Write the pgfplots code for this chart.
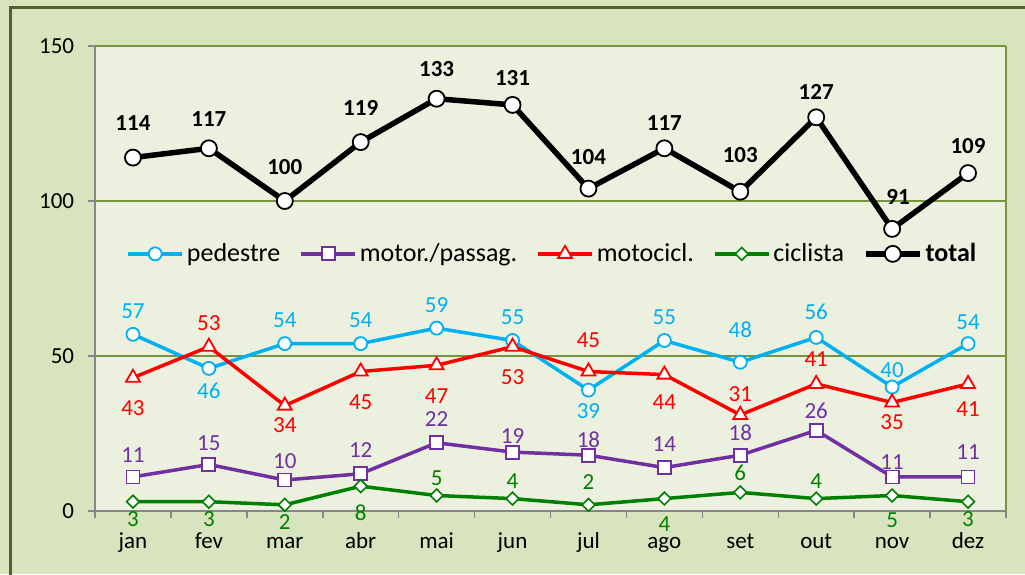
\documentclass[border=0pt]{standalone}
\usepackage{fontspec}
\setmainfont{Carlito}
\usepackage{pgfplots}
\usepackage{pgfplotstable}
\pgfplotsset{compat=1.18}

\definecolor{outerbg}{HTML}{D7E4BD}
\definecolor{plotbg}{HTML}{EBF1DE}
\definecolor{gridc}{HTML}{77933C}
\definecolor{framec}{HTML}{4F6228}
\definecolor{axisc}{HTML}{868686}
\definecolor{ped}{HTML}{00B0F0}
\definecolor{mot}{HTML}{7030A0}
\definecolor{moto}{HTML}{FF0000}
\definecolor{cic}{HTML}{008000}

% values and label offsets (baseline shift in pt, + above, - below)
\pgfplotstableread{
x ped pedo mp mpo mc mco ci cio tot toto totx
0  57  16 11 14 43 -38 3 -25 114 27 0
1  46 -30 15 14 53  16 3 -25 117 22 0
2  54  16 10 12 34 -27 2 -25 100 26 0
3  54  16 12 16 45 -38 8 -34 119 27 0
4  59  16 22 16 47 -38 5  10 133 22 0
5  55  16 19  9 53 -38 4  10 131 19 0
6  39 -28 18  8 45  24 2  15 104 24 0
7  55  16 14 16 44 -35 4 -33 117 18 0
8  48  25 18 15 31  13 6  12 103 29 0
9  56  18 26 12 41  17 4  10 127 18 0
10 40  10 11  7 35 -27 5 -32 91  24 6
11 54  14 11 17 41 -33 3 -25 109 20 0
}\data

\begin{document}
\fontsize{23}{28}\selectfont
\begin{tikzpicture}
\useasboundingbox (0,0) rectangle (1025pt,574pt);
\clip (0,0) rectangle (1025pt,574pt);
\fill[outerbg] (0,0) rectangle (1025pt,574pt);
\draw[framec, line width=3pt] (10pt,-20pt) rectangle (1045pt,566pt);
\begin{axis}[
  at={(95pt,63pt)}, anchor=south west,
  scale only axis, width=911pt, height=465pt,
  xmin=-0.5, xmax=11.5, ymin=0, ymax=150,
  clip=false,
  axis background/.style={fill=plotbg},
  axis lines=left,
  axis line style={-, axisc, line width=1.5pt},
  xtick={0,...,11},
  xticklabels={jan,fev,mar,abr,mai,jun,jul,ago,set,out,nov,dez},
  minor xtick={-0.5,0.5,...,11.5},
  major x tick style={draw=none},
  ytick={0,50,100,150},
  tick align=outside,
  major tick length=7pt, minor tick length=7pt,
  tick style={axisc, line width=1.5pt},
  ymajorgrids,
  grid style={gridc, line width=1.2pt},
  /pgf/number format/assume math mode=true,
  xticklabel style={anchor=base, yshift=-30pt, inner sep=1pt},
  yticklabel style={xshift=-6pt},
  legend style={draw=none, fill=none, at={(0.031,0.553)}, anchor=west,
    legend columns=-1, nodes={inner sep=3pt},
    font=\fontsize{26}{31}\selectfont,
    /tikz/every even column/.append style={column sep=16pt}},
  legend image code/.code={\draw[mark repeat=2,mark phase=2]
    plot coordinates {(0pt,0pt) (27pt,0pt) (54pt,0pt)};},
  nodes near coords={\pgfmathprintnumber[assume math mode=true]{\pgfplotspointmeta}},
  every node near coord/.append style={inner sep=1pt},
]
\draw[gridc, line width=1.2pt] (rel axis cs:1,0) -- (rel axis cs:1,1);

\addplot[ped, line width=3.5pt, mark=*, mark size=6.5pt,
  mark options={fill=white, line width=1.8pt},
  visualization depends on={\thisrow{pedo} \as \loff},
  every node near coord/.append style={anchor=base, yshift=\loff pt, text=ped}]
  table[x=x, y=ped] {\data};
\addlegendentry{pedestre}

\addplot[mot, line width=3.5pt, mark=square*, mark size=6.5pt,
  mark options={fill=white, line width=1.8pt},
  visualization depends on={\thisrow{mpo} \as \loff},
  every node near coord/.append style={anchor=base, yshift=\loff pt, text=mot}]
  table[x=x, y=mp] {\data};
\addlegendentry{motor./passag.}

\addplot[moto, line width=3.5pt, mark=triangle*, mark size=8pt,
  mark options={fill=white, line width=1.8pt},
  visualization depends on={\thisrow{mco} \as \loff},
  every node near coord/.append style={anchor=base, yshift=\loff pt, text=moto}]
  table[x=x, y=mc] {\data};
\addlegendentry{motocicl.}

\addplot[cic, line width=3.5pt, mark=square*, mark size=4.5pt,
  mark options={fill=white, line width=1.6pt, rotate=45},
  visualization depends on={\thisrow{cio} \as \loff},
  every node near coord/.append style={anchor=base, yshift=\loff pt, text=cic}]
  table[x=x, y=ci] {\data};
\addlegendentry{ciclista}

\addplot[black, line width=5.5pt, mark=*, mark size=8pt,
  mark options={fill=white, line width=1.8pt},
  visualization depends on={\thisrow{toto} \as \loff},
  visualization depends on={\thisrow{totx} \as \lx},
  every node near coord/.append style={anchor=base, yshift=\loff pt,
    xshift=\lx pt, font=\bfseries}]
  table[x=x, y=tot] {\data};
\addlegendentry{\textbf{total}}
\end{axis}
\end{tikzpicture}
\end{document}
